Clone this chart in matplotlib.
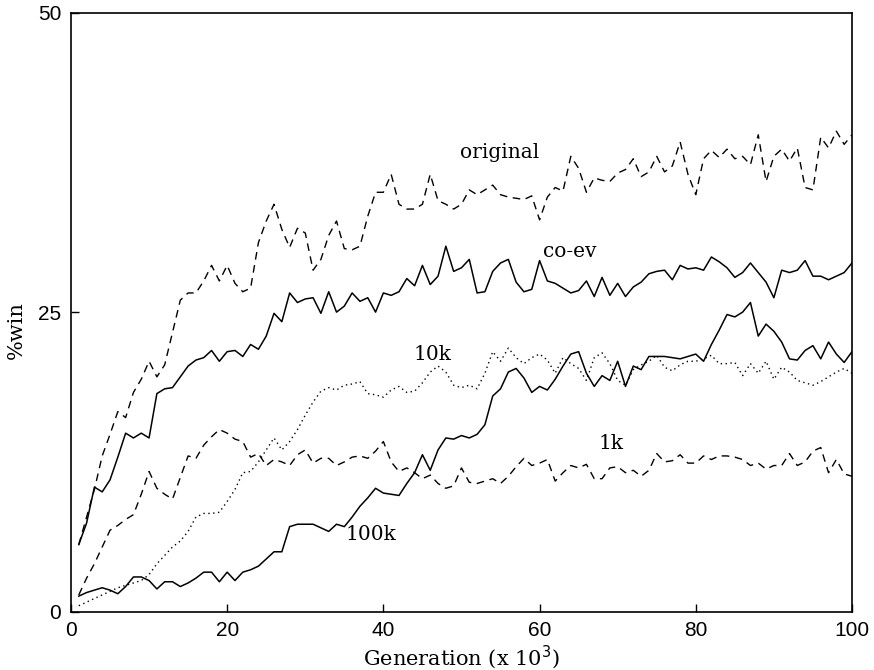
import matplotlib
matplotlib.use('Agg')
import matplotlib.pyplot as plt

# generations (x 10^3)
gen = list(range(1, 101))

# %win for each training set
original = [5.6, 7.9, 10.2, 13.0, 14.8, 16.7, 16.2, 18.3, 19.4, 20.9,
            19.6, 20.6, 23.3, 26.0, 26.6, 26.6, 27.6, 28.9, 27.6, 28.9,
            27.4, 26.7, 27.0, 30.8, 32.6, 34.0, 31.9, 30.4, 32.0, 31.6,
            28.5, 29.4, 31.4, 32.6, 30.3, 30.2, 30.5, 33.0, 35.0, 35.0,
            36.5, 34.0, 33.6, 33.6, 34.0, 36.5, 34.3, 34.0, 33.6, 34.0,
            35.2, 34.8, 35.2, 35.6, 34.8, 34.6, 34.5, 34.4, 34.7, 32.7,
            34.6, 35.4, 35.1, 38.0, 37.0, 35.0, 36.2, 36.0, 35.9, 36.6,
            36.9, 37.8, 36.3, 36.7, 38.0, 36.7, 37.2, 39.2, 36.5, 34.8,
            37.8, 38.5, 37.9, 38.6, 37.8, 38.0, 37.3, 39.8, 35.9, 38.0,
            38.6, 37.6, 38.7, 35.4, 35.2, 39.6, 38.7, 40.1, 39.0, 39.8]

coev = [5.6, 7.4, 10.4, 10.0, 11.0, 12.9, 14.9, 14.5, 14.9, 14.5,
        18.2, 18.6, 18.7, 19.6, 20.5, 21.0, 21.2, 21.8, 20.9, 21.7,
        21.8, 21.3, 22.3, 21.9, 23.0, 24.9, 24.2, 26.6, 25.8, 26.1,
        26.2, 24.9, 26.7, 25.0, 25.5, 26.6, 25.9, 26.2, 25.0, 26.6,
        26.4, 26.7, 27.8, 27.2, 28.9, 27.3, 28.0, 30.5, 28.4, 28.7,
        29.4, 26.6, 26.7, 28.4, 29.1, 29.4, 27.5, 26.7, 26.9, 29.3,
        27.6, 27.4, 27.0, 26.6, 26.8, 27.6, 26.3, 27.9, 26.4, 27.4,
        26.3, 27.1, 27.5, 28.2, 28.4, 28.5, 27.7, 28.9, 28.6, 28.7,
        28.5, 29.6, 29.2, 28.7, 27.9, 28.3, 29.1, 28.3, 27.5, 26.2,
        28.5, 28.3, 28.5, 29.3, 28.0, 28.0, 27.7, 28.0, 28.3, 29.1]

k10 = [0.5, 0.8, 1.1, 1.4, 1.7, 2.0, 2.2, 2.4, 2.6, 3.1,
       4.0, 4.7, 5.4, 5.9, 6.7, 7.9, 8.2, 8.2, 8.3, 9.2,
       10.2, 11.6, 11.7, 12.5, 13.5, 14.5, 13.5, 14.2, 15.2, 16.4,
       17.5, 18.4, 18.7, 18.5, 18.9, 19.0, 19.2, 18.2, 18.1, 17.9,
       18.5, 18.8, 18.3, 18.4, 19.1, 20.0, 20.5, 20.0, 18.9, 18.7,
       18.9, 18.6, 19.9, 21.7, 20.9, 22.0, 21.2, 20.7, 21.2, 21.5,
       21.0, 19.9, 21.2, 20.7, 20.3, 19.3, 21.2, 21.6, 20.7, 19.3,
       18.9, 20.2, 20.6, 20.9, 21.4, 20.4, 20.1, 20.6, 20.9, 20.9,
       21.1, 21.4, 20.7, 20.7, 20.8, 19.7, 20.7, 19.9, 20.9, 19.4,
       20.4, 20.0, 19.3, 19.1, 18.9, 19.2, 19.6, 20.0, 20.3, 19.9]

k1 = [1.4, 2.8, 4.0, 5.4, 6.8, 7.2, 7.7, 8.1, 9.8, 11.7,
      10.3, 9.8, 9.4, 11.2, 13.0, 12.8, 13.9, 14.6, 15.2, 14.9,
      14.4, 14.2, 12.9, 13.2, 12.2, 12.7, 12.5, 12.2, 13.1, 13.5,
      12.4, 12.8, 12.8, 12.2, 12.5, 12.9, 13.0, 12.8, 13.4, 14.2,
      12.5, 11.7, 12.0, 11.6, 11.1, 11.4, 10.7, 10.3, 10.5, 12.0,
      10.8, 10.7, 10.9, 11.1, 10.7, 11.3, 12.1, 12.8, 12.2, 12.4,
      12.7, 10.9, 11.6, 12.2, 12.0, 12.3, 11.1, 11.1, 12.0, 12.1,
      11.6, 11.8, 11.3, 11.8, 13.2, 12.5, 12.6, 13.1, 12.4, 12.4,
      13.0, 12.7, 13.0, 13.0, 12.9, 12.7, 12.2, 12.4, 11.9, 12.2,
      12.2, 13.2, 12.2, 12.5, 13.4, 13.7, 11.6, 12.7, 11.5, 11.3]

k100 = [1.3, 1.6, 1.8, 2.0, 1.8, 1.5, 2.1, 2.9, 2.9, 2.6,
        1.9, 2.5, 2.5, 2.1, 2.4, 2.8, 3.3, 3.3, 2.5, 3.3,
        2.6, 3.3, 3.5, 3.8, 4.4, 5.0, 5.0, 7.1, 7.3, 7.3,
        7.3, 7.0, 6.7, 7.3, 7.1, 7.9, 8.8, 9.5, 10.3, 9.9,
        9.8, 9.7, 10.7, 11.6, 13.1, 11.8, 13.5, 14.5, 14.4, 14.7,
        14.5, 14.8, 15.6, 18.0, 18.6, 20.0, 20.3, 19.5, 18.3, 18.8,
        18.5, 19.4, 20.5, 21.5, 21.7, 19.9, 18.8, 19.7, 19.3, 20.9,
        18.8, 20.5, 20.2, 21.3, 21.3, 21.3, 21.2, 21.1, 21.3, 21.5,
        20.9, 22.3, 23.5, 24.8, 24.6, 25.0, 25.8, 23.0, 24.0, 23.4,
        22.5, 21.1, 21.0, 21.8, 22.2, 21.1, 22.5, 21.5, 20.8, 21.7]

fig = plt.figure(figsize=(8.74, 6.70), dpi=100)
ax = fig.add_axes([0.0812, 0.087, 0.8936, 0.8943])

dash = (0, (5.5, 4))
ax.plot(gen, original, color='k', lw=1.0, linestyle=dash)
ax.plot(gen, coev, color='k', lw=1.1)
ax.plot(gen, k10, color='k', lw=1.0, linestyle=(0, (1, 2.5)))
ax.plot(gen, k1, color='k', lw=1.0, linestyle=dash)
ax.plot(gen, k100, color='k', lw=1.1)

# curve labels
serif = 'DejaVu Serif'
ax.text(49.8, 37.9, 'original', fontsize=14.5, family=serif)
ax.text(60.4, 29.6, 'co-ev', fontsize=14.5, family=serif)
ax.text(43.8, 21.0, '10k', fontsize=14.5, family=serif)
ax.text(67.5, 13.6, '1k', fontsize=14.5, family=serif)
ax.text(35.2, 6.0, '100k', fontsize=14.5, family=serif)

ax.set_xlim(0, 100)
ax.set_ylim(0, 50)
ax.set_xticks([0, 20, 40, 60, 80, 100])
ax.set_yticks([0, 25, 50])
ax.tick_params(direction='in', length=6, width=1, labelsize=15, pad=7)
for lab in ax.get_xticklabels() + ax.get_yticklabels():
    lab.set_family('Liberation Sans')
for sp in ax.spines.values():
    sp.set_linewidth(1.2)

ax.set_xlabel('Generation (x 10$^3$)', fontsize=15, family=serif)
ax.set_ylabel('%win', fontsize=15, family=serif)
ax.xaxis.set_label_coords(0.5, -0.052)
ax.yaxis.set_label_coords(-0.058, 0.47)

fig.savefig('out.png', dpi=100)
